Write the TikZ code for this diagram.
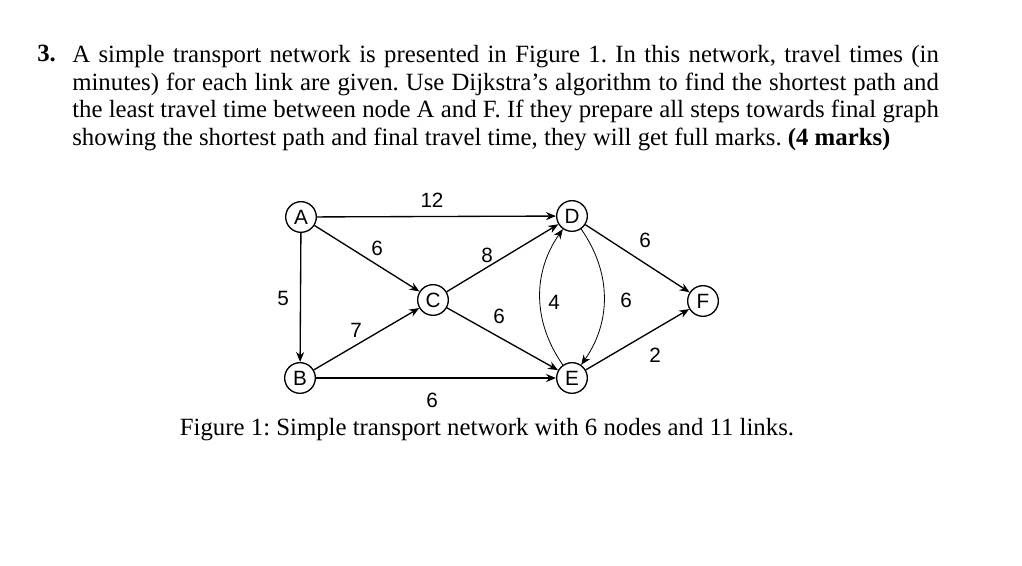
\documentclass[tikz,border=0pt]{standalone}
\usepackage{fontspec}
\setmainfont{Liberation Serif}
\newfontfamily\arial{Liberation Sans}
\usetikzlibrary{arrows.meta}
\begin{document}
\frenchspacing
\begin{tikzpicture}[x=0.75pt,y=-0.75pt,
  vtx/.style={circle,draw,line width=1pt,minimum size=23pt,inner sep=0pt,font=\arial\fontsize{15.5}{16}\selectfont},
  lnk/.style={draw,line width=1pt,-{Stealth[length=7.5pt,width=6pt]}},
  arc/.style={draw,line width=0.6pt,-{Stealth[length=7.5pt,width=6pt]}},
  lab/.style={font=\arial\fontsize{15.5}{16}\selectfont,inner sep=0pt},
  para/.style={font=\fontsize{18.6}{20.8}\selectfont,inner sep=0pt}]
\useasboundingbox (0,0) rectangle (1022,566);
\node[para,anchor=north west] (num) at (37,45) {\textbf{3.}};
\node[para,anchor=north west,text width=650pt,align=justify] (txt) at (72,45)
 {A simple transport network is presented in Figure 1. In this network, travel times (in minutes) for each link are given. Use Dijkstra's algorithm to find the shortest path and the least travel time between node A and F. If they prepare all steps towards final graph showing the shortest path and final travel time, they will get full marks. \textbf{(4 marks)}};
\node[vtx] (A) at (301,217) {A};
\node[vtx] (B) at (300,378) {B};
\node[vtx] (C) at (433,300) {C};
\node[vtx] (D) at (572,216) {D};
\node[vtx] (E) at (572,378) {E};
\node[vtx] (F) at (703,301) {F};
\draw[lnk] (A) -- (D);
\draw[lnk] (A) -- (C);
\draw[lnk] (A) -- (B);
\draw[lnk] (B) -- (C);
\draw[lnk] (B) -- (E);
\draw[lnk] (C) -- (D);
\draw[lnk] (C) -- (E);
\draw[lnk] (D) -- (F);
\draw[lnk] (E) -- (F);
\draw[arc] (E) to[bend left=35] (D);
\draw[arc] (D) to[bend left=35] (E);
\node[lab] (l1) at (432,200) {12};
\node[lab] (l2) at (377,248) {6};
\node[lab] (l3) at (487,255) {8};
\node[lab] (l4) at (283,298) {5};
\node[lab] (l5) at (356,330) {7};
\node[lab] (l6) at (499,316) {6};
\node[lab] (l7) at (554,302) {4};
\node[lab] (l8) at (626,300) {6};
\node[lab] (l9) at (645,240) {6};
\node[lab] (l10) at (655,355) {2};
\node[lab] (l11) at (432,400) {6};
\node[para] (cap) at (487,430) {Figure 1: Simple transport network with 6 nodes and 11 links.};
\end{tikzpicture}
\end{document}
